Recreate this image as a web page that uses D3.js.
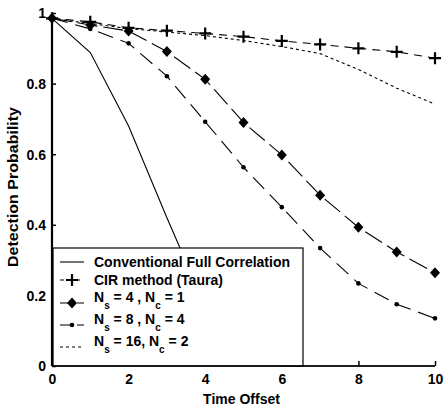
<!DOCTYPE html>
<html>
<head>
<meta charset="utf-8">
<script src="https://cdn.jsdelivr.net/npm/d3@7"></script>
<style>
  body { margin: 0; background: #fff; }
  svg text { font-family: "Liberation Sans", Arial, sans-serif; font-weight: bold; fill: #000; }
</style>
</head>
<body>
<svg id="chart"></svg>
<script>
const width = 444, height = 412;

// data
const timeOffset = [0, 1, 2, 3, 4, 5, 6, 7, 8, 9, 10];
const conventional = [0.985, 0.888, 0.68, 0.42, 0.17, 0.03, 0, 0, 0, 0, 0];
const cirTaura = [0.985, 0.975, 0.958, 0.95, 0.942, 0.933, 0.921, 0.911, 0.9, 0.89, 0.872];
const ns4nc1 = [0.985, 0.966, 0.949, 0.891, 0.812, 0.69, 0.598, 0.484, 0.393, 0.323, 0.264];
const ns8nc4 = [0.985, 0.955, 0.914, 0.821, 0.692, 0.563, 0.45, 0.334, 0.234, 0.175, 0.135];
const ns16nc2 = [0.985, 0.97, 0.956, 0.946, 0.936, 0.922, 0.905, 0.885, 0.84, 0.787, 0.742];
const xTicks = [0, 2, 4, 6, 8, 10];
const yTicks = [0, 0.2, 0.4, 0.6, 0.8, 1];

const series = [
  { name: "Conventional Full Correlation", values: conventional, dash: null, marker: null },
  { name: "CIR method (Taura)", values: cirTaura, dash: "8,6", marker: "plus" },
  { name: ["4", "1"], values: ns4nc1, dash: "20,6", marker: "diamond" },
  { name: ["8", "4"], values: ns8nc4, dash: "16,8", marker: "dot" },
  { name: ["16", "2"], values: ns16nc2, dash: "3,3", marker: null }
];

const x = d3.scaleLinear().domain([0, 10]).range([52, 435]);
const y = d3.scaleLinear().domain([0, 1]).range([366, 13]);

const svg = d3.select("#chart").attr("width", width).attr("height", height);

// ticks (inward)
const xAxis = svg.append("g")
  .attr("transform", `translate(0,${y(0)})`)
  .call(d3.axisBottom(x).tickValues(xTicks).tickSize(-5).tickPadding(10).tickFormat(d3.format("d")));
const yAxis = svg.append("g")
  .attr("transform", `translate(${x(0)},0)`)
  .call(d3.axisLeft(y).tickValues(yTicks).tickSize(-4).tickPadding(6).tickFormat(d => d === 0 || d === 1 ? d : d.toFixed(1)));
[xAxis, yAxis].forEach(a => {
  a.select(".domain").remove();
  a.selectAll("line").attr("stroke", "#000").attr("stroke-width", 1.5);
  a.selectAll("text").attr("font-size", 14).attr("font-family", null);
});
xAxis.selectAll("text").attr("dy", "0.55em");
yAxis.selectAll("text").attr("dy", "0.35em");

const line = d3.line().x((d, i) => x(timeOffset[i])).y(d => y(d));

function drawMarker(g, kind, cx, cy) {
  if (kind === "plus") {
    g.append("path").attr("d", `M${cx - 6},${cy}H${cx + 6}M${cx},${cy - 6}V${cy + 6}`)
      .attr("stroke", "#000").attr("stroke-width", 2.2);
  } else if (kind === "diamond") {
    g.append("path").attr("d", `M${cx},${cy - 5.5}L${cx + 5},${cy}L${cx},${cy + 5.5}L${cx - 5},${cy}Z`)
      .attr("fill", "#000");
  } else if (kind === "dot") {
    g.append("circle").attr("cx", cx).attr("cy", cy).attr("r", 2.3).attr("fill", "#000");
  }
}

const plot = svg.append("g");
series.forEach(s => {
  plot.append("path")
    .datum(s.values)
    .attr("d", line)
    .attr("fill", "none")
    .attr("stroke", "#000")
    .attr("stroke-width", 1.1)
    .attr("stroke-dasharray", s.dash);
  if (s.marker) {
    s.values.forEach((v, i) => drawMarker(plot, s.marker, x(timeOffset[i]), y(v)));
  }
});

// legend
const legend = svg.append("g");
legend.append("rect")
  .attr("x", 53).attr("y", 248).attr("width", 250).attr("height", 366 - 248)
  .attr("fill", "#fff").attr("stroke", "#000").attr("stroke-width", 1.2);

const rowY = [262, 280, 303, 325, 347];
series.forEach((s, i) => {
  const cy = rowY[i];
  legend.append("line")
    .attr("x1", 60).attr("x2", 84).attr("y1", cy).attr("y2", cy)
    .attr("stroke", "#000").attr("stroke-width", 1.1)
    .attr("stroke-dasharray", s.dash ? (s.marker === "plus" ? "4,4" : s.marker ? "12,5" : s.dash) : null);
  if (s.marker) drawMarker(legend, s.marker, 72, cy);
  if (typeof s.name === "string") {
    legend.append("text").attr("x", 94).attr("y", cy + 5).attr("font-size", 14).text(s.name);
  } else {
    const t = legend.append("text").attr("x", 94).attr("y", cy - 1).attr("font-size", 14);
    const sep = s.name[0] === "16" ? ", N" : " , N";
    t.append("tspan").text("N");
    t.append("tspan").attr("font-size", 10).attr("dy", 7).text("s");
    t.append("tspan").attr("dy", -7).text(` = ${s.name[0]}${sep}`);
    t.append("tspan").attr("font-size", 10).attr("dy", 7).text("c");
    t.append("tspan").attr("dy", -7).text(` = ${s.name[1]}`);
  }
});

// axis lines on top
svg.append("line").attr("x1", x(0)).attr("x2", x(0)).attr("y1", y(0)).attr("y2", 15)
  .attr("stroke", "#000").attr("stroke-width", 2.2);
svg.append("line").attr("x1", x(0)).attr("x2", x(10)).attr("y1", y(0)).attr("y2", y(0))
  .attr("stroke", "#000").attr("stroke-width", 1.6);

// axis titles
svg.append("text")
  .attr("x", x(5) - 2).attr("y", 404)
  .attr("text-anchor", "middle").attr("font-size", 14)
  .text("Time Offset");
svg.append("text")
  .attr("transform", "translate(18,187) rotate(-90)")
  .attr("text-anchor", "middle").attr("font-size", 14)
  .attr("textLength", 160).attr("lengthAdjust", "spacingAndGlyphs")
  .text("Detection Probability");
</script>
</body>
</html>
